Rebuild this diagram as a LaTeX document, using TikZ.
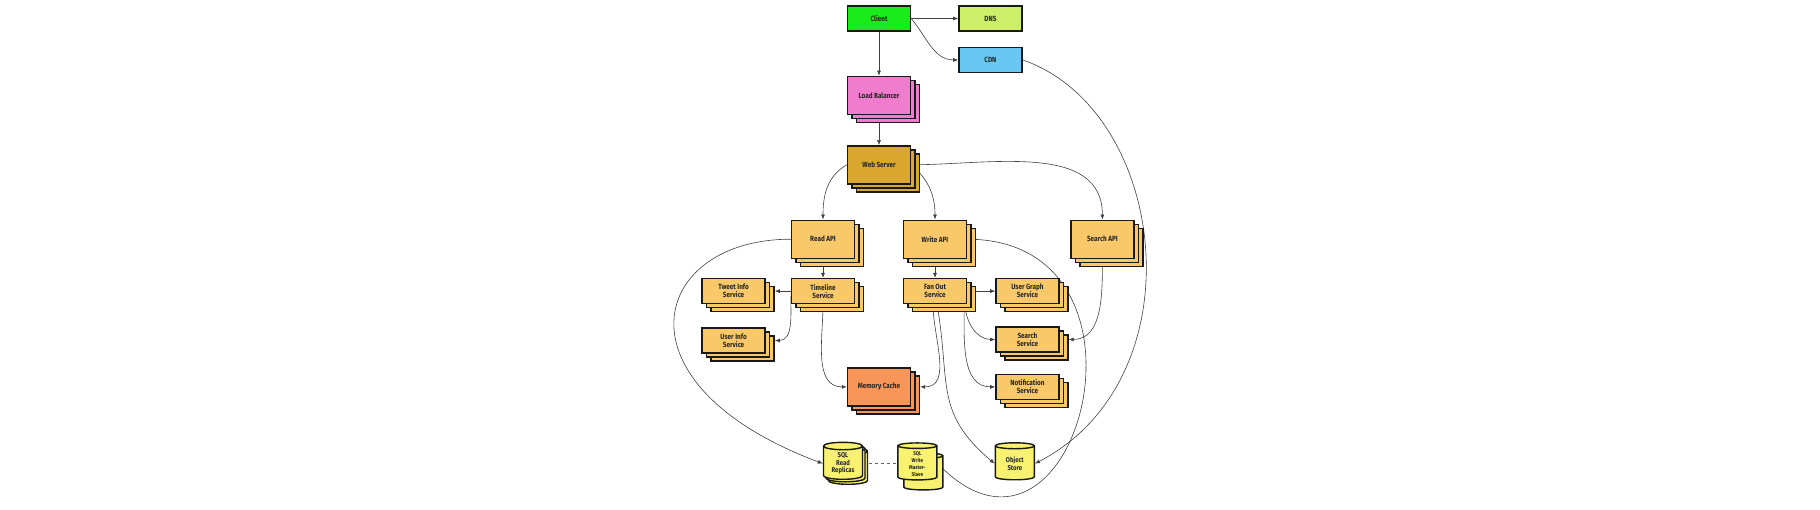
\documentclass[tikz,border=0pt]{standalone}
\usepackage{fontspec}
\newfontfamily\sketchfont[FakeStretch=0.85]{Fira Sans}
\usepackage{xcolor}
\usepackage{tikz}
\usetikzlibrary{shapes.geometric, arrows.meta, positioning, shadows, backgrounds}

\definecolor{clientgreen}{RGB}{26,235,26}
\definecolor{dnsgreen}{RGB}{204,238,104}
\definecolor{cdnblue}{RGB}{104,200,242}
\definecolor{lbpink}{RGB}{240,124,206}
\definecolor{webgold}{RGB}{218,168,46}
\definecolor{svcorange}{RGB}{249,200,104}
\definecolor{cacheorange}{RGB}{247,150,88}
\definecolor{dbyellow}{RGB}{248,242,112}

\begin{document}
\begin{tikzpicture}[
    x=1pt, y=1pt,
    box/.style={draw=black!90, line width=1.4pt, align=center,
                font=\sketchfont\bfseries\fontsize{7.5}{8}\selectfont, text=black!85,
                inner sep=1pt, minimum width=63pt, minimum height=25pt},
    stack/.style={box, double copy shadow={shadow xshift=4.5pt, shadow yshift=-4pt}},
    big/.style={stack, minimum height=38pt},
    svc/.style={stack, fill=svcorange},
    db/.style={cylinder, shape border rotate=90, aspect=0.3, draw=black!90,
               line width=1.4pt, fill=dbyellow, align=center, inner sep=1pt,
               font=\sketchfont\bfseries\fontsize{7}{7.5}\selectfont, text=black!85,
               minimum width=39pt, minimum height=37pt},
    arr/.style={-{Latex[length=5pt, width=4pt]}, line width=0.6pt, black!75}
]
\useasboundingbox (0,0) rectangle (1820,-509);

\node[box, fill=clientgreen] (client) at (879,-18.5) {Client};
\node[box, fill=dnsgreen, right=47pt of client] (dns) {DNS};
\node[box, fill=cdnblue, below=15pt of dns] (cdn) {CDN};
\node[big, fill=lbpink, below=44pt of client] (lb) {Load Balancer};
\node[big, fill=webgold, below=30pt of lb] (web) {Web Server};

\node[big, fill=svcorange, below=35pt of web, xshift=-56pt] (rapi) {Read API};
\node[big, fill=svcorange, below=35pt of web, xshift=56pt] (wapi) {Write API};
\node[big, fill=svcorange, right=103pt of wapi] (sapi) {Search API};

\node[svc, below=19pt of rapi] (tl) {Timeline\\Service};
\node[svc, left=25pt of tl] (tweet) {Tweet Info\\Service};
\node[svc, below=23pt of tweet] (user) {User Info\\Service};
\node[svc, below=19pt of wapi] (fan) {Fan Out\\Service};
\node[svc, right=28pt of fan] (graph) {User Graph\\Service};
\node[svc, below=22pt of graph] (ssvc) {Search\\Service};
\node[svc, below=21pt of ssvc] (notif) {Notification\\Service};
\node[big, fill=cacheorange] (cache) at (web |- notif) {Memory Cache};

\node[db, double copy shadow={shadow xshift=2.5pt, shadow yshift=-2.5pt},
      below=35pt of cache, xshift=-36pt] (sqlr) {SQL\\Read\\Replicas};
\node[db, copy shadow={shadow xshift=6pt, shadow yshift=-10pt},
      font=\sketchfont\bfseries\fontsize{5.5}{7}\selectfont,
      right=34pt of sqlr] (sqlw) {SQL\\Write\\Master-\\Slave};
\node[db, right=57pt of sqlw] (obj) {Object\\Store};

\begin{scope}[on background layer]
\draw[arr] (client) -- (dns);
\draw[arr] (client.east) to[out=-50, in=180] (cdn.west);
\draw[arr] (client) -- (lb);
\draw[arr] (lb) -- (web);
\draw[arr] (web.west) to[out=210, in=90] (rapi.north);
\draw[arr] (web.east) to[out=-40, in=90] (wapi.north);
\draw[arr] (web.east) to[out=0, in=90] (sapi.north);
\draw[arr] (rapi) -- (tl);
\draw[arr] (rapi.west) .. controls +(-140,0) and +(-213,80) .. (sqlr.west);
\draw[arr] (tl.west) -- ([xshift=9pt]tweet.east);
\draw[arr] ([yshift=-5pt]tl.west) to[out=-90, in=0] ([xshift=9pt]user.east);
\draw[arr] (tl.south) to[out=-90, in=180] (cache.west);
\draw[arr] (wapi) -- (fan);
\draw[arr] (wapi.east) .. controls +(205,0) and +(140,-138) .. (sqlw.east);
\draw[arr] (fan.east) -- (graph.west);
\draw[arr] ([xshift=-2pt]fan.south east) to[out=-90, in=180] (ssvc.west);
\draw[arr] ([xshift=-3pt]fan.south east) to[out=-90, in=180] (notif.west);
\draw[arr] ([xshift=-2pt]fan.south) to[out=-90, in=0] ([xshift=9pt]cache.east);
\draw[arr] ([xshift=2pt]fan.south) to[out=-80, in=140, looseness=1.2] (obj.west);
\draw[arr] (sapi.south) to[out=-90, in=0] ([xshift=9pt]ssvc.east);
\draw[arr] (cdn.east) .. controls +(145,-50) and +(165,86) .. (obj.east);
\draw[dashed, line width=0.8pt, black!60] (sqlr.east) -- (sqlw.west);
\end{scope}
\end{tikzpicture}
\end{document}
